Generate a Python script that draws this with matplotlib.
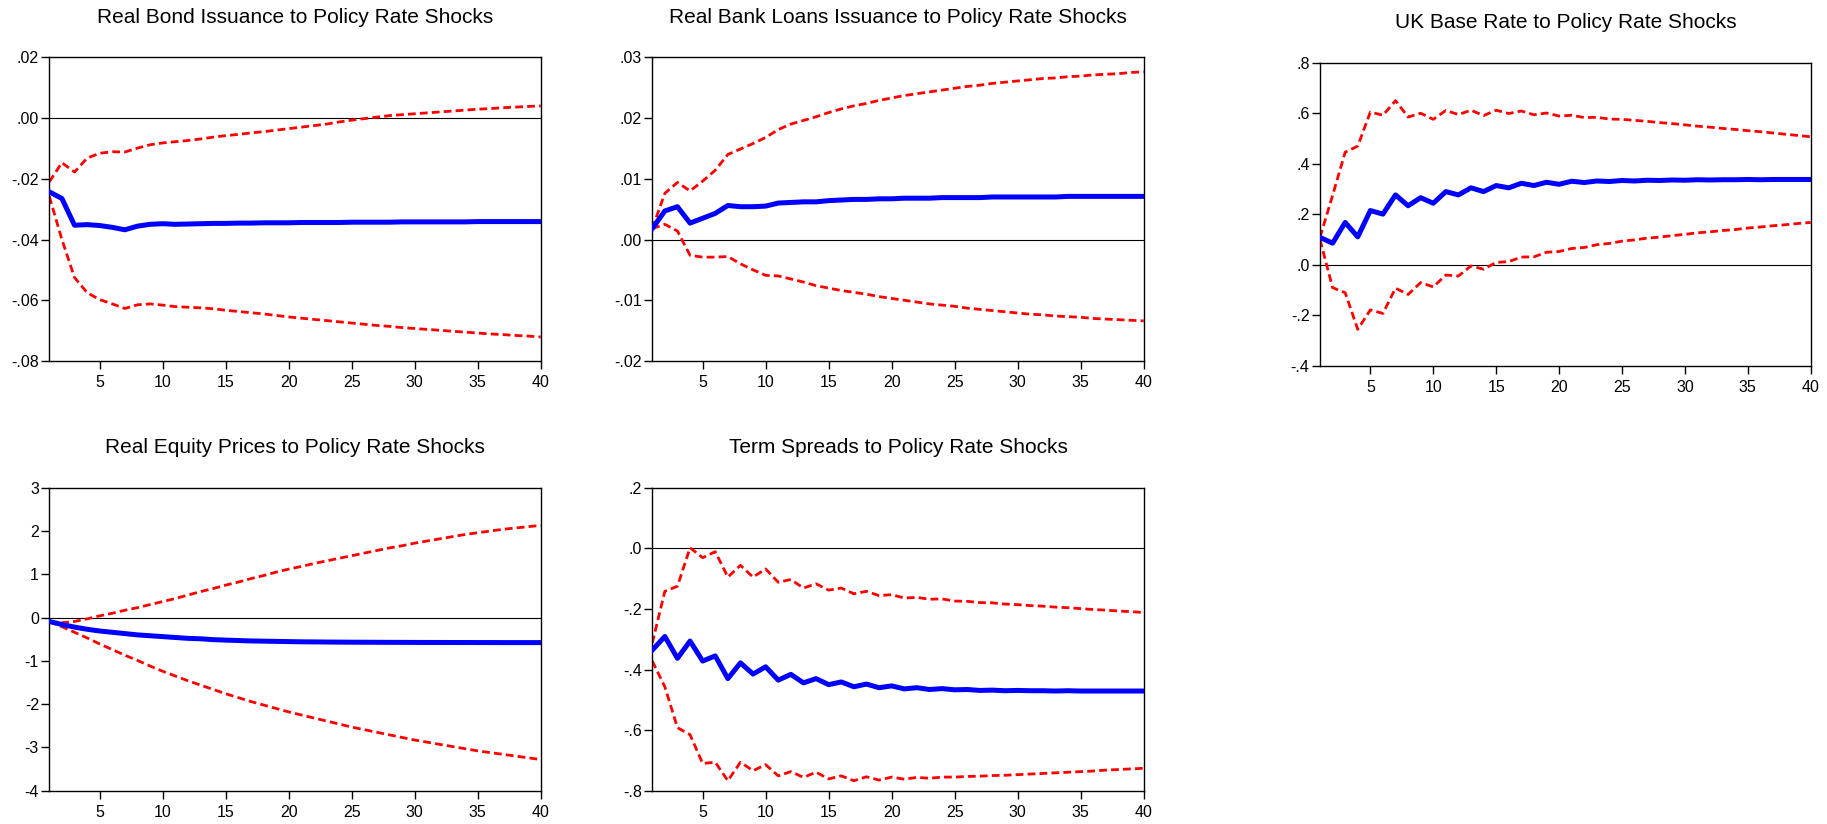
import matplotlib
matplotlib.use("Agg")
import matplotlib.pyplot as plt
from matplotlib.ticker import FuncFormatter, MultipleLocator

plt.rcParams["font.family"] = ["Liberation Sans", "DejaVu Sans"]

periods = list(range(1, 41))

# Real bond issuance
bond_irf = [-0.0243, -0.0265, -0.0353, -0.0351, -0.0354, -0.0360, -0.0368, -0.0356, -0.0350, -0.0348,
            -0.0350, -0.0349, -0.0348, -0.0347, -0.0347, -0.0346, -0.0346, -0.0345, -0.0345, -0.0345,
            -0.0344, -0.0344, -0.0344, -0.0344, -0.0343, -0.0343, -0.0343, -0.0343, -0.0342, -0.0342,
            -0.0342, -0.0342, -0.0342, -0.0342, -0.0341, -0.0341, -0.0341, -0.0341, -0.0341, -0.0341]
bond_upper = [-0.0210, -0.0147, -0.0178, -0.0132, -0.0116, -0.0111, -0.0112, -0.0099, -0.0088, -0.0082,
              -0.0078, -0.0074, -0.0069, -0.0063, -0.0058, -0.0054, -0.0049, -0.0045, -0.0040, -0.0035,
              -0.0030, -0.0025, -0.0020, -0.0013, -0.0007, -0.0002, 0.0003, 0.0008, 0.0011, 0.0014,
              0.0017, 0.0020, 0.0023, 0.0026, 0.0029, 0.0031, 0.0034, 0.0036, 0.0038, 0.0040]
bond_lower = [-0.0258, -0.0400, -0.0525, -0.0575, -0.0598, -0.0612, -0.0627, -0.0615, -0.0612, -0.0616,
              -0.0621, -0.0623, -0.0625, -0.0628, -0.0633, -0.0637, -0.0641, -0.0645, -0.0650, -0.0655,
              -0.0659, -0.0663, -0.0667, -0.0671, -0.0675, -0.0679, -0.0683, -0.0686, -0.0690, -0.0693,
              -0.0696, -0.0699, -0.0702, -0.0705, -0.0708, -0.0711, -0.0713, -0.0716, -0.0718, -0.0721]

# Real bank loans
loans_irf = [0.0018, 0.0047, 0.0054, 0.0027, 0.0035, 0.0043, 0.0056, 0.0054, 0.0054, 0.0055,
             0.0060, 0.0061, 0.0062, 0.0062, 0.0064, 0.0065, 0.0066, 0.0066, 0.0067, 0.0067,
             0.0068, 0.0068, 0.0068, 0.0069, 0.0069, 0.0069, 0.0069, 0.0070, 0.0070, 0.0070,
             0.0070, 0.0070, 0.0070, 0.0071, 0.0071, 0.0071, 0.0071, 0.0071, 0.0071, 0.0071]
loans_upper = [0.0018, 0.0076, 0.0094, 0.0080, 0.0096, 0.0114, 0.0140, 0.0149, 0.0158, 0.0168,
               0.0181, 0.0190, 0.0196, 0.0202, 0.0209, 0.0215, 0.0220, 0.0224, 0.0229, 0.0233,
               0.0237, 0.0240, 0.0243, 0.0246, 0.0249, 0.0252, 0.0254, 0.0257, 0.0259, 0.0261,
               0.0263, 0.0265, 0.0266, 0.0268, 0.0269, 0.0271, 0.0272, 0.0273, 0.0275, 0.0276]
loans_lower = [0.0018, 0.0025, 0.0014, -0.0026, -0.0029, -0.0029, -0.0028, -0.0040, -0.0050, -0.0059,
               -0.0060, -0.0065, -0.0070, -0.0076, -0.0080, -0.0084, -0.0087, -0.0090, -0.0094, -0.0097,
               -0.0100, -0.0103, -0.0106, -0.0108, -0.0110, -0.0113, -0.0115, -0.0117, -0.0119, -0.0121,
               -0.0123, -0.0124, -0.0126, -0.0127, -0.0128, -0.0130, -0.0131, -0.0132, -0.0133, -0.0134]

# UK base rate
base_irf = [0.109, 0.086, 0.168, 0.111, 0.215, 0.201, 0.277, 0.234, 0.266, 0.244,
            0.290, 0.277, 0.305, 0.290, 0.314, 0.305, 0.323, 0.314, 0.327, 0.319,
            0.331, 0.326, 0.332, 0.330, 0.334, 0.332, 0.335, 0.334, 0.336, 0.335,
            0.337, 0.336, 0.337, 0.337, 0.338, 0.337, 0.338, 0.338, 0.338, 0.338]
base_upper = [0.109, 0.275, 0.446, 0.470, 0.605, 0.592, 0.650, 0.585, 0.600, 0.576,
              0.611, 0.595, 0.612, 0.591, 0.612, 0.599, 0.609, 0.594, 0.601, 0.589,
              0.592, 0.583, 0.584, 0.577, 0.576, 0.572, 0.568, 0.563, 0.559, 0.554,
              0.549, 0.545, 0.540, 0.536, 0.531, 0.527, 0.522, 0.517, 0.512, 0.507]
base_lower = [0.100, -0.090, -0.110, -0.255, -0.178, -0.192, -0.092, -0.117, -0.070, -0.087,
              -0.040, -0.044, -0.004, -0.017, 0.010, 0.013, 0.031, 0.032, 0.050, 0.053,
              0.065, 0.069, 0.080, 0.085, 0.094, 0.099, 0.106, 0.110, 0.116, 0.121,
              0.127, 0.131, 0.136, 0.140, 0.146, 0.150, 0.155, 0.159, 0.164, 0.168]

# Real equity prices
equity_irf = [-0.09, -0.16, -0.22, -0.27, -0.31, -0.34, -0.37, -0.40, -0.42, -0.44,
              -0.46, -0.48, -0.49, -0.51, -0.52, -0.53, -0.54, -0.545, -0.55, -0.555,
              -0.56, -0.562, -0.565, -0.567, -0.569, -0.570, -0.571, -0.572, -0.573, -0.574,
              -0.575, -0.575, -0.576, -0.576, -0.577, -0.577, -0.578, -0.578, -0.578, -0.578]
equity_upper = [-0.09, -0.12, -0.09, -0.03, 0.04, 0.10, 0.17, 0.23, 0.30, 0.37,
                0.44, 0.52, 0.60, 0.67, 0.75, 0.82, 0.90, 0.97, 1.05, 1.12,
                1.18, 1.25, 1.31, 1.37, 1.43, 1.49, 1.55, 1.61, 1.66, 1.72,
                1.77, 1.82, 1.87, 1.92, 1.96, 2.00, 2.04, 2.07, 2.10, 2.13]
equity_lower = [-0.09, -0.21, -0.34, -0.47, -0.61, -0.74, -0.87, -0.99, -1.12, -1.24,
                -1.35, -1.46, -1.56, -1.66, -1.76, -1.85, -1.94, -2.02, -2.10, -2.18,
                -2.25, -2.32, -2.39, -2.46, -2.53, -2.59, -2.65, -2.71, -2.77, -2.83,
                -2.88, -2.93, -2.98, -3.03, -3.08, -3.12, -3.16, -3.20, -3.24, -3.28]

# Term spreads
spread_irf = [-0.336, -0.291, -0.363, -0.306, -0.372, -0.355, -0.430, -0.378, -0.415, -0.391,
              -0.435, -0.416, -0.444, -0.430, -0.450, -0.441, -0.457, -0.448, -0.460, -0.454,
              -0.464, -0.460, -0.466, -0.463, -0.467, -0.466, -0.469, -0.468, -0.470, -0.469,
              -0.470, -0.470, -0.471, -0.470, -0.471, -0.471, -0.471, -0.471, -0.471, -0.471]
spread_upper = [-0.313, -0.142, -0.125, 0.002, -0.031, -0.011, -0.095, -0.056, -0.095, -0.068,
                -0.112, -0.103, -0.131, -0.117, -0.138, -0.131, -0.150, -0.142, -0.156, -0.153,
                -0.164, -0.162, -0.168, -0.167, -0.174, -0.175, -0.179, -0.180, -0.184, -0.186,
                -0.189, -0.191, -0.194, -0.196, -0.199, -0.202, -0.204, -0.207, -0.209, -0.212]
spread_lower = [-0.372, -0.457, -0.592, -0.615, -0.710, -0.706, -0.767, -0.706, -0.734, -0.714,
                -0.751, -0.737, -0.756, -0.739, -0.761, -0.751, -0.767, -0.754, -0.765, -0.755,
                -0.762, -0.756, -0.759, -0.755, -0.755, -0.753, -0.752, -0.750, -0.749, -0.747,
                -0.745, -0.743, -0.741, -0.739, -0.737, -0.735, -0.732, -0.730, -0.728, -0.726]

titles = ["Real Bond Issuance to Policy Rate Shocks",
          "Real Bank Loans Issuance to Policy Rate Shocks",
          "UK Base Rate to Policy Rate Shocks",
          "Real Equity Prices to Policy Rate Shocks",
          "Term Spreads to Policy Rate Shocks"]


def eviews_fmt(decimals):
    # EViews drops the leading zero: .02, -.04, .0
    def f(v, pos):
        if decimals == 0:
            return "%d" % round(v)
        s = "%.*f" % (decimals, v)
        if s.startswith("-") and abs(v) < 0.5 * 10 ** -decimals:
            s = s[1:]
        return s.replace("0.", ".", 1) if s.lstrip("-").startswith("0.") else s
    return f


def irf_panel(ax, title, irf, upper, lower, ylim, step, decimals):
    ax.axhline(0, color="black", lw=0.8, zorder=1)
    ax.plot(periods, upper, color="#ff0000", lw=2.0, dashes=(2.8, 1.5), zorder=2)
    ax.plot(periods, lower, color="#ff0000", lw=2.0, dashes=(2.8, 1.5), zorder=2)
    ax.plot(periods, irf, color="#0000ff", lw=3.6, zorder=3)
    ax.set_xlim(1, 40)
    ax.set_ylim(*ylim)
    ax.xaxis.set_major_locator(MultipleLocator(5))
    ax.yaxis.set_major_locator(MultipleLocator(step))
    ax.yaxis.set_major_formatter(FuncFormatter(eviews_fmt(decimals)))
    ax.tick_params(direction="out", length=6, width=1.0, labelsize=11.5, color="black")
    ax.tick_params(axis="y", pad=1.5)
    ax.tick_params(axis="x", pad=4)
    for sp in ax.spines.values():
        sp.set_linewidth(1.0)
    ax.set_title(title, fontsize=15, pad=25)


fig = plt.figure(figsize=(18.27, 8.24), dpi=100)

ax1 = fig.add_axes([0.02698, 0.5619, 0.2690, 0.3686])
ax2 = fig.add_axes([0.3570, 0.5619, 0.2690, 0.3686])
ax3 = fig.add_axes([0.7225, 0.5558, 0.2686, 0.3681])
ax4 = fig.add_axes([0.02698, 0.0404, 0.2690, 0.3677])
ax5 = fig.add_axes([0.3570, 0.0404, 0.2690, 0.3677])

irf_panel(ax1, titles[0], bond_irf, bond_upper, bond_lower, (-0.08, 0.02), 0.02, 2)
irf_panel(ax2, titles[1], loans_irf, loans_upper, loans_lower, (-0.02, 0.03), 0.01, 2)
irf_panel(ax3, titles[2], base_irf, base_upper, base_lower, (-0.4, 0.8), 0.2, 1)
irf_panel(ax4, titles[3], equity_irf, equity_upper, equity_lower, (-4, 3), 1, 0)
irf_panel(ax5, titles[4], spread_irf, spread_upper, spread_lower, (-0.8, 0.2), 0.2, 1)

fig.savefig("out.png", dpi=100)
